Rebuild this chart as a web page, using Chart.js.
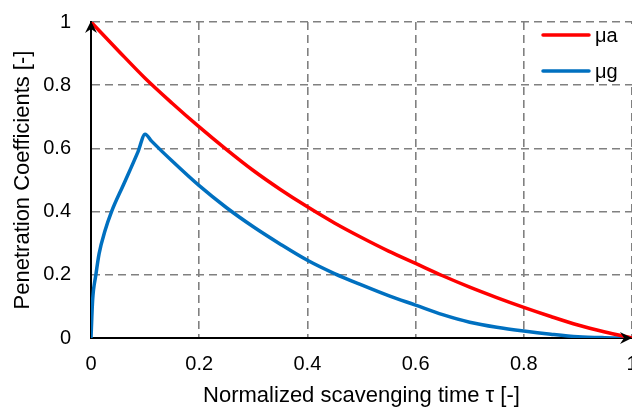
<!DOCTYPE html>
<html>
<head>
<meta charset="utf-8">
<script src="https://cdn.jsdelivr.net/npm/chart.js@4.4.1/dist/chart.umd.min.js"></script>
<style>
  html, body { margin: 0; padding: 0; background: #fff; }
  canvas { display: block; }
</style>
</head>
<body>
<canvas id="chart" width="632" height="409"></canvas>
<script>
// μa curve
const tauA = [0, 0.05, 0.1, 0.15, 0.2, 0.25, 0.3, 0.35, 0.4, 0.45, 0.5,
  0.55, 0.6, 0.65, 0.7, 0.75, 0.8, 0.85, 0.9, 0.95, 1];
const muA = [1, 0.91, 0.822, 0.743, 0.668, 0.597, 0.53, 0.47, 0.415, 0.364, 0.318,
  0.275, 0.236, 0.197, 0.161, 0.128, 0.097, 0.068, 0.041, 0.019, 0];

// μg curve (sharp rise up to the peak, then decay)
const tauG = [0, 0.003, 0.009, 0.015, 0.026, 0.038, 0.06, 0.087, 0.1, 0.112,
  0.15, 0.2, 0.25, 0.3, 0.35, 0.4, 0.45, 0.5, 0.55, 0.6, 0.65, 0.7, 0.75,
  0.8, 0.85, 0.9, 0.95, 1];
const muG = [0, 0.12, 0.2, 0.267, 0.34, 0.4, 0.485, 0.59, 0.645, 0.623,
  0.56, 0.482, 0.413, 0.352, 0.297, 0.246, 0.204, 0.168, 0.134, 0.104, 0.074, 0.05, 0.034,
  0.022, 0.012, 0.004, 0.001, 0];

const seriesNames = ['μa', 'μg'];
const seriesColors = ['#FF0000', '#0070C0'];
const xTicks = [0, 0.2, 0.4, 0.6, 0.8, 1];
const yTicks = [0, 0.2, 0.4, 0.6, 0.8, 1];

const FAMILY = '"Liberation Sans", Arial, sans-serif';
const TICK_FONT = { family: FAMILY, size: 20 };
const TITLE_FONT = { family: FAMILY, size: 22 };

function toPoints(xs, ys) {
  return xs.map((x, i) => ({ x, y: ys[i] }));
}

function arrowHead(ctx, x, y, dir) {
  // dir: 'up' or 'right'
  const len = 12, notch = 8, half = 6;
  ctx.save();
  ctx.fillStyle = '#000';
  ctx.beginPath();
  if (dir === 'up') {
    ctx.moveTo(x, y);
    ctx.lineTo(x - half, y + len);
    ctx.lineTo(x, y + notch);
    ctx.lineTo(x + half, y + len);
  } else {
    ctx.moveTo(x, y);
    ctx.lineTo(x - len, y - half);
    ctx.lineTo(x - notch, y);
    ctx.lineTo(x - len, y + half);
  }
  ctx.closePath();
  ctx.fill();
  ctx.restore();
}

const extras = {
  id: 'extras',
  afterDraw(chart) {
    const { ctx, chartArea } = chart;
    arrowHead(ctx, chartArea.left, chartArea.top - 1, 'up');
    arrowHead(ctx, chartArea.right, chartArea.bottom, 'right');

    // legend box in the top right corner
    ctx.save();
    ctx.fillStyle = '#fff';
    ctx.fillRect(528, 24, 104, 59);
    ctx.font = TICK_FONT.size + 'px ' + FAMILY;
    ctx.textBaseline = 'middle';
    ctx.textAlign = 'left';
    seriesNames.forEach((name, i) => {
      const y = 35 + i * 36;
      ctx.strokeStyle = seriesColors[i];
      ctx.lineWidth = 3.5;
      ctx.lineCap = 'round';
      ctx.beginPath();
      ctx.moveTo(543, y);
      ctx.lineTo(589, y);
      ctx.stroke();
      ctx.fillStyle = '#000';
      ctx.fillText(name, 595, y + 1);
    });
    ctx.restore();
  },
};

const gridStyle = {
  color: '#808080',
  lineWidth: 1.6,
  drawTicks: false,
};
const borderStyle = { color: '#000', width: 2, dash: [8, 5] };
const fmt = (v) => String(v);

new Chart(document.getElementById('chart'), {
  type: 'scatter',
  data: {
    datasets: [
      {
        label: seriesNames[0],
        data: toPoints(tauA, muA),
        borderColor: seriesColors[0],
        borderWidth: 3.5,
        showLine: true,
        pointRadius: 0,
        cubicInterpolationMode: 'monotone',
      },
      {
        label: seriesNames[1],
        data: toPoints(tauG, muG),
        borderColor: seriesColors[1],
        borderWidth: 3.5,
        showLine: true,
        pointRadius: 0,
        cubicInterpolationMode: 'monotone',
      },
    ],
  },
  options: {
    responsive: false,
    animation: false,
    layout: { padding: { top: 22, right: 0, left: 0, bottom: 0 } },
    plugins: { legend: { display: false }, tooltip: { enabled: false } },
    scales: {
      x: {
        type: 'linear',
        min: 0,
        max: 1,
        afterBuildTicks: (s) => { s.ticks = xTicks.map((v) => ({ value: v })); },
        afterFit: (s) => { s.height = 71; s.paddingLeft = 0; s.paddingRight = 0; },
        grid: gridStyle,
        border: borderStyle,
        ticks: { color: '#000', font: TICK_FONT, padding: 14, maxRotation: 0, callback: fmt },
        title: {
          display: true,
          text: 'Normalized scavenging time τ [-]',
          color: '#000',
          font: TITLE_FONT,
          padding: { top: 0, bottom: 0 },
        },
      },
      y: {
        type: 'linear',
        min: 0,
        max: 1,
        afterBuildTicks: (s) => { s.ticks = yTicks.map((v) => ({ value: v })); },
        afterFit: (s) => { s.width = 91; s.paddingTop = 0; s.paddingBottom = 0; },
        grid: gridStyle,
        border: borderStyle,
        ticks: { color: '#000', font: TICK_FONT, padding: 20, callback: fmt },
        title: {
          display: true,
          text: 'Penetration Coefficients [-]',
          color: '#000',
          font: TITLE_FONT,
          padding: { top: 10, bottom: 0 },
        },
      },
    },
  },
  plugins: [extras],
});
</script>
</body>
</html>
